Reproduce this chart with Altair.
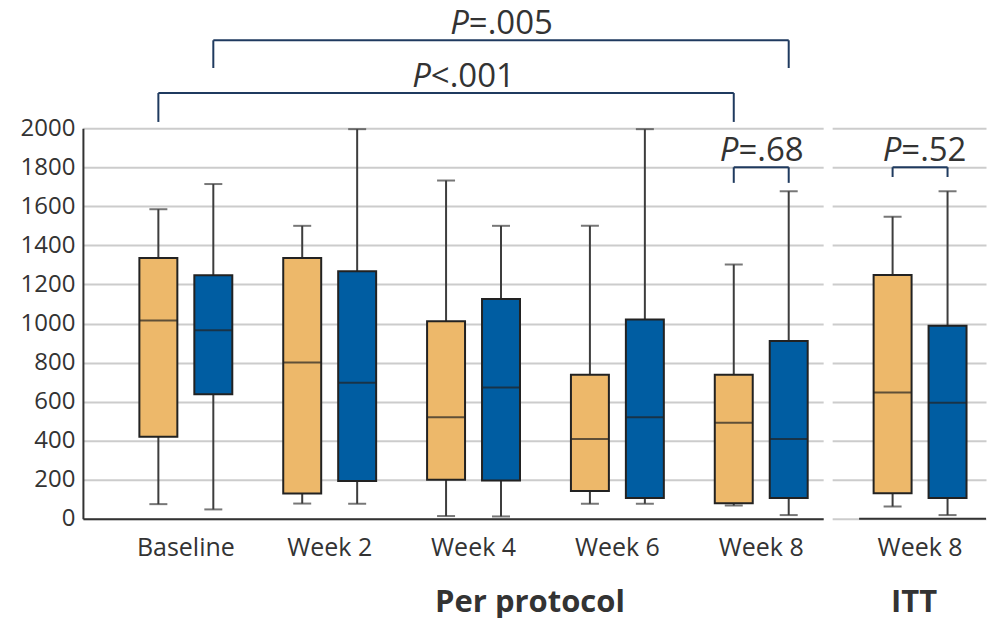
import altair as alt
import pandas as pd

# ---- box statistics (min, Q1, median, Q3, max) per visit ----
groups = ["Baseline", "Week 2", "Week 4", "Week 6", "Week 8", "Week 8"]
panels = ["Per protocol"] * 5 + ["ITT"]

a_min = [75, 78, 14, 77, 68, 63]
a_q1 = [420, 130, 200, 142, 80, 131]
a_med = [1015, 800, 520, 408, 492, 646]
a_q3 = [1335, 1335, 1012, 738, 738, 1248]
a_max = [1585, 1500, 1732, 1500, 1302, 1547]

b_min = [48, 77, 12, 77, 19, 19]
b_q1 = [638, 193, 196, 106, 106, 106]
b_med = [965, 697, 672, 520, 408, 594]
b_q3 = [1247, 1268, 1126, 1021, 910, 988]
b_max = [1714, 1995, 1500, 1995, 1677, 1677]

# ---- pairwise comparisons drawn as brackets ----
cmp_panel = ["Per protocol", "Per protocol", "Per protocol", "ITT"]
cmp_rest = ["=.005", "<.001", "=.68", "=.52"]
cmp_from = [("Baseline", "B"), ("Baseline", "A"), ("Week 8", "A"), ("Week 8", "A")]
cmp_to = [("Week 8", "B"), ("Week 8", "A"), ("Week 8", "B"), ("Week 8", "B")]
cmp_level = [2450, 2180, 1800, 1800]
cmp_foot = [2308, 2032, 1720, 1750]
cmp_label_at = [("Week 4", 0.75), ("Week 4", 0.25), ("Week 8", 0.5), ("Week 8", 0.5)]
cmp_nudge = [0, 17, 0, 4]

ORANGE = "#EDB86A"
BLUE = "#005DA2"
EDGE = "#222222"
WHISKER = "#3D3D3D"
NAVY = "#1F3A5F"
INK = "#333333"
FONT = "Open Sans"
P_SIZE = 33
BAND_POS = {"A": 0.25, "B": 0.75}

rows = []
for i, g in enumerate(groups):
    rows.append(dict(panel=panels[i], group=g, arm="A", lo=a_min[i], q1=a_q1[i],
                     med=a_med[i], q3=a_q3[i], hi=a_max[i]))
    rows.append(dict(panel=panels[i], group=g, arm="B", lo=b_min[i], q1=b_q1[i],
                     med=b_med[i], q3=b_q3[i], hi=b_max[i]))
boxes = pd.DataFrame(rows)

# rough Open Sans advance widths (em) used to split the italic "P" from the rest
CHAR_W = {"=": 0.572, "<": 0.572, ".": 0.266}


def rest_width(s):
    return sum(CHAR_W.get(c, 0.572) for c in s)


def panel(name, width, band_kw, title_x, left_panel):
    cats = [g for g, p in zip(groups, panels) if p == name]
    xs = alt.Scale(domain=cats, paddingInner=0.236, **band_kw)
    ys = alt.Scale(domain=[0, 2000], nice=False, zero=True)
    xo = alt.Scale(domain=["A", "B"], paddingInner=0, paddingOuter=0)
    cs = alt.Scale(domain=["A", "B"], range=[ORANGE, BLUE])

    x_axis = alt.Axis(
        title=name, labelAngle=0, labelFont=FONT, labelFontSize=25, labelColor=INK,
        labelPadding=17, ticks=False, tickSize=0, domain=left_panel, domainColor=INK,
        domainWidth=2, grid=False, titleFont=FONT, titleFontSize=31,
        titleFontWeight="bold", titleColor=INK, titleX=title_x, titleY=93,
        titleAlign="center", titleBaseline="alphabetic",
    )
    y_axis = alt.Axis(
        values=list(range(0, 2001, 200)), format="d", title=None, grid=True,
        gridColor="#CCCCCC", gridWidth=2, ticks=False, tickSize=0, labels=left_panel,
        domain=left_panel, domainColor=INK, domainWidth=2, labelFont=FONT,
        labelFontSize=24, labelColor=INK, labelPadding=8,
    )

    base = alt.Chart(boxes[boxes.panel == name])
    X = alt.X("group:N", scale=xs, axis=x_axis)
    XO = alt.XOffset("arm:N", scale=xo)

    def Y(f):
        return alt.Y(f"{f}:Q", scale=ys, axis=y_axis)

    layers = [
        base.mark_rule(color=WHISKER, strokeWidth=2).encode(x=X, xOffset=XO, y=Y("lo"), y2="q1:Q"),
        base.mark_rule(color=WHISKER, strokeWidth=2).encode(x=X, xOffset=XO, y=Y("q3"), y2="hi:Q"),
        base.mark_tick(orient="horizontal", size=18, thickness=2, color=WHISKER).encode(x=X, xOffset=XO, y=Y("lo")),
        base.mark_tick(orient="horizontal", size=18, thickness=2, color=WHISKER).encode(x=X, xOffset=XO, y=Y("hi")),
        base.mark_bar(width=38, stroke=EDGE, strokeWidth=2, opacity=1).encode(
            x=X, xOffset=XO, y=Y("q1"), y2="q3:Q",
            color=alt.Color("arm:N", scale=cs, legend=None)),
        base.mark_tick(orient="horizontal", size=38, thickness=2, color=EDGE).encode(x=X, xOffset=XO, y=Y("med")),
    ]

    if not left_panel:
        # x baseline of the ITT panel starts a little inside the grid
        layers.append(
            alt.Chart(pd.DataFrame({"v": [0]})).mark_rule(color=INK, strokeWidth=2).encode(
                y=Y("v"), x=alt.value(27), x2=alt.value(width))
        )

    for k in range(len(cmp_panel)):
        if cmp_panel[k] != name:
            continue
        (g0, s0), (g1, s1) = cmp_from[k], cmp_to[k]
        d = pd.DataFrame({"g0": [g0], "g1": [g1], "lvl": [cmp_level[k]],
                          "foot": [cmp_foot[k]], "at": [cmp_label_at[k][0]],
                          "p": ["P"], "rest": [cmp_rest[k]]})
        c = alt.Chart(d)
        layers.append(c.mark_rule(color=NAVY, strokeWidth=2).encode(
            x=alt.X("g0:N", scale=xs, axis=x_axis, bandPosition=BAND_POS[s0]),
            x2=alt.X2("g1:N", bandPosition=BAND_POS[s1]), y=Y("lvl")))
        layers.append(c.mark_rule(color=NAVY, strokeWidth=2).encode(
            x=alt.X("g0:N", scale=xs, axis=x_axis, bandPosition=BAND_POS[s0]),
            y=Y("lvl"), y2="foot:Q"))
        layers.append(c.mark_rule(color=NAVY, strokeWidth=2).encode(
            x=alt.X("g1:N", scale=xs, axis=x_axis, bandPosition=BAND_POS[s1]),
            y=Y("lvl"), y2="foot:Q"))
        # italic P joined to the upright remainder, centred as one label
        wp = 0.6 * P_SIZE
        wr = rest_width(cmp_rest[k]) * P_SIZE
        join = cmp_nudge[k] + (wp - wr) / 2
        at_x = alt.X("at:N", scale=xs, axis=x_axis, bandPosition=cmp_label_at[k][1])
        layers.append(c.mark_text(font=FONT, fontSize=P_SIZE, fontStyle="italic", color=INK,
                                  align="right", baseline="alphabetic", dx=join, dy=-6).encode(
            x=at_x, y=Y("lvl"), text="p:N"))
        layers.append(c.mark_text(font=FONT, fontSize=P_SIZE, color=INK,
                                  align="left", baseline="alphabetic", dx=join, dy=-6).encode(
            x=at_x, y=Y("lvl"), text="rest:N"))

    return alt.layer(*layers).properties(width=width, height=391)


pp = panel("Per protocol", 741, dict(paddingOuter=0.191, align=0.873), 447, True)
itt = panel("ITT", 154, dict(paddingOuter=0.1528, align=0.75), 81.5, False)

chart = (
    alt.hconcat(pp, itt, spacing=9)
    .properties(padding={"left": 20, "top": 8, "right": 0, "bottom": 0}, background="white")
    .configure_view(stroke=None)
)

chart.save("out.html", embed_options={"renderer": "svg", "actions": False})
